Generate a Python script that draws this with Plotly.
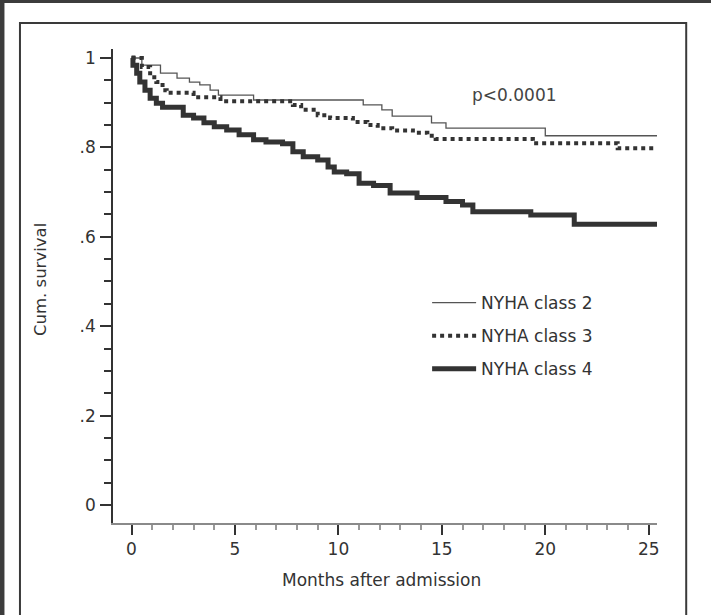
import plotly.graph_objects as go

# ---- data ----
t_class2 = [0, 0.5, 1.4, 2.2, 2.8, 3.3, 3.8, 4.2, 5.9, 11.2, 12.1, 12.6, 14.5, 15.2, 20.0, 25.4]
s_class2 = [1.0, 0.984, 0.966, 0.955, 0.946, 0.940, 0.928, 0.917, 0.906, 0.895, 0.884, 0.870, 0.855, 0.843, 0.826, 0.826]

t_class3 = [0, 0.5, 0.9, 1.2, 1.5, 1.7, 3.0, 4.3, 7.8, 8.2, 9.0, 9.6, 10.7, 11.4, 11.9, 12.6, 13.6, 14.3, 14.7, 19.4, 23.5, 25.4]
s_class3 = [1.0, 0.980, 0.957, 0.946, 0.928, 0.922, 0.912, 0.903, 0.895, 0.884, 0.872, 0.866, 0.857, 0.850, 0.843, 0.838, 0.833, 0.826, 0.819, 0.809, 0.798, 0.798]

t_class4 = [0, 0.07, 0.25, 0.4, 0.65, 0.9, 1.2, 1.5, 2.5, 3.0, 3.5, 4.0, 4.6, 5.2, 5.9, 6.5, 7.3, 7.8, 8.3, 9.0, 9.5, 9.8,
            10.4, 11.0, 11.7, 12.5, 13.8, 15.2, 16.0, 16.5, 19.3, 21.4, 25.4]
s_class4 = [1.0, 0.984, 0.966, 0.946, 0.928, 0.910, 0.899, 0.890, 0.872, 0.866, 0.855, 0.846, 0.839, 0.828, 0.817, 0.812, 0.808, 0.790, 0.779, 0.772, 0.756, 0.745,
            0.741, 0.720, 0.715, 0.698, 0.688, 0.679, 0.671, 0.656, 0.649, 0.628, 0.628]

series_names = ["NYHA class 2", "NYHA class 3", "NYHA class 4"]
x_ticks = [0, 5, 10, 15, 20, 25]
y_ticks = [0, 0.2, 0.4, 0.6, 0.8, 1.0]
y_tick_labels = ["0", ".2", ".4", ".6", ".8", "1"]

# ---- layout geometry ----
W, H = 711, 615
L, R, T, B = 113, 54.2, 49, 92
PW, PH = W - L - R, H - T - B


def xp(px):
    return (px - L) / PW


def yp(py):
    return (H - B - py) / PH


FONT = "DejaVu Sans"
TXT = "#333333"

fig = go.Figure()
fig.add_trace(go.Scatter(x=t_class2, y=s_class2, mode="lines", line_shape="hv",
                         line=dict(color="#555555", width=1.3), name=series_names[0], legendgroup="a"))
fig.add_trace(go.Scatter(x=t_class3, y=s_class3, mode="lines", line_shape="hv",
                         line=dict(color="#333333", width=4, dash="dot"), name=series_names[1], legendgroup="b"))
fig.add_trace(go.Scatter(x=t_class4, y=s_class4, mode="lines", line_shape="hv",
                         line=dict(color="#333333", width=5), name=series_names[2], legendgroup="c"))

shapes = [
    # dark outer strips
    dict(type="rect", xref="paper", yref="paper", x0=xp(-5), x1=xp(W + 5), y0=yp(3), y1=yp(-5),
         fillcolor="#3c3c3c", line_width=0, layer="below"),
    dict(type="rect", xref="paper", yref="paper", x0=xp(-5), x1=xp(4.5), y0=yp(H + 5), y1=yp(-5),
         fillcolor="#3c3c3c", line_width=0, layer="below"),
    # inner frame
    dict(type="rect", xref="paper", yref="paper", x0=xp(20), x1=xp(686), y0=yp(H + 10), y1=yp(23),
         line=dict(color="#3a3a3a", width=2), fillcolor="rgba(0,0,0,0)", layer="below"),
]

annotations = [
    dict(text="p&lt;0.0001", x=18.5, y=0.917, xref="x", yref="y", showarrow=False,
         xanchor="center", yanchor="middle",
         font=dict(family=FONT, size=17, color="#444444")),
    dict(text="Months after admission", x=xp(381), y=yp(580), xref="paper", yref="paper",
         xanchor="center", yanchor="middle",
         showarrow=False, font=dict(family=FONT, size=17, color=TXT)),
    dict(text="Cum. survival", x=xp(40), y=yp(279), xref="paper", yref="paper", textangle=-90,
         xanchor="center", yanchor="middle",
         showarrow=False, font=dict(family=FONT, size=16.5, color=TXT)),
]

fig.update_layout(
    width=W, height=H, margin=dict(l=L, r=R, t=T, b=B, autoexpand=False),
    paper_bgcolor="white", plot_bgcolor="rgba(0,0,0,0)",
    font=dict(family=FONT, size=16, color=TXT),
    shapes=shapes, annotations=annotations,
    showlegend=True,
    legend=dict(x=xp(427), y=yp(285), xanchor="left", yanchor="top", bgcolor="rgba(0,0,0,0)",
                font=dict(family=FONT, size=17, color=TXT), tracegroupgap=8, itemwidth=44),
)

fig.update_xaxes(range=[-0.895, 25.40], showgrid=False, zeroline=False, showline=True,
                 linecolor="#8a8a8a", linewidth=2, ticks="outside", ticklen=10, tickwidth=1.5,
                 tickcolor="#333333", tickvals=x_ticks, ticklabelstandoff=0,
                 tickfont=dict(family=FONT, size=17, color=TXT),
                 minor=dict(dtick=1, ticks="outside", ticklen=5, tickcolor="#999999", tickwidth=1.5))
fig.update_yaxes(range=[-0.0403, 1.0201], showgrid=False, zeroline=False, showline=True,
                 linecolor="#333333", linewidth=1.5, ticks="outside", ticklen=11, tickwidth=1.5,
                 tickcolor="#333333", tickvals=y_ticks, ticktext=y_tick_labels, ticklabelstandoff=1,
                 tickfont=dict(family=FONT, size=17, color=TXT),
                 minor=dict(dtick=0.05, ticks="outside", ticklen=7, tickcolor="#333333", tickwidth=1.5))

fig.write_html("out.html")
